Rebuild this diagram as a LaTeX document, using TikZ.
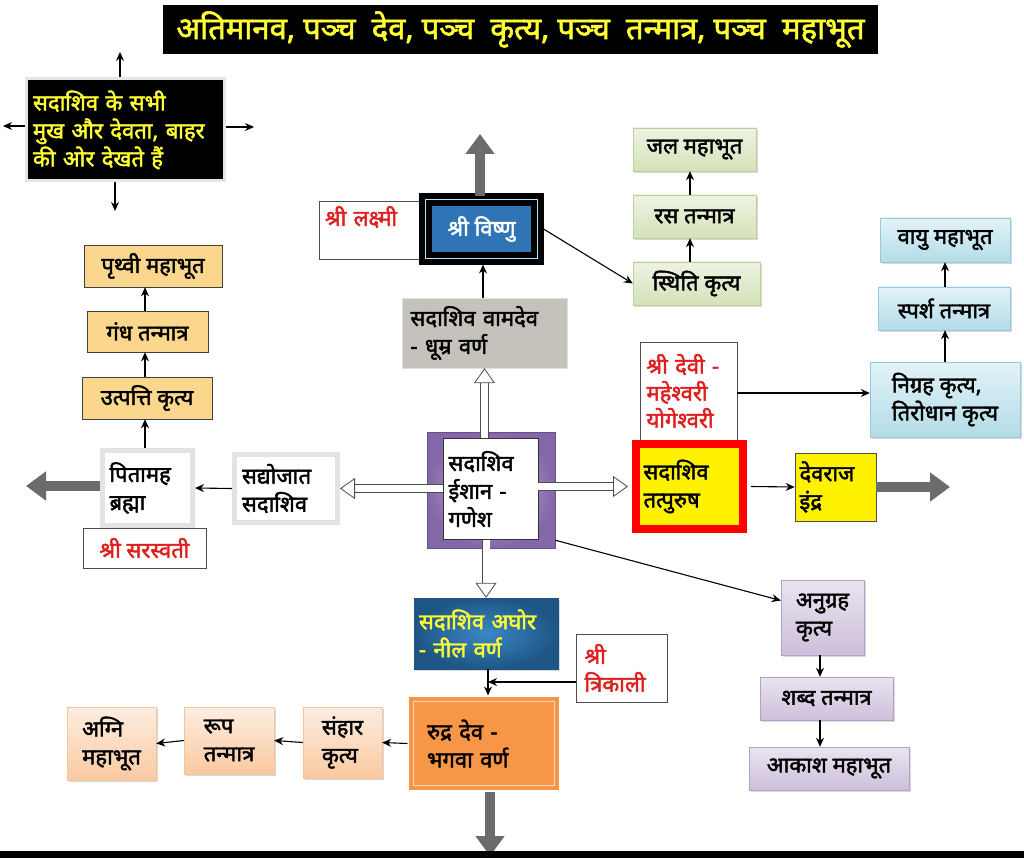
\documentclass[tikz,border=0pt]{standalone}
\usepackage{fontspec}
\setmainfont[Script=Devanagari, BoldFont={Noto Sans}, BoldFeatures={FakeBold=2}]{Noto Sans}
\usetikzlibrary{arrows.meta,shadows}
\definecolor{ttlyel}{HTML}{FFFF33}
\definecolor{gold}{HTML}{FAD78C}
\definecolor{grntop}{HTML}{EEF3E3}
\definecolor{grnbot}{HTML}{D4E2B8}
\definecolor{grnline}{HTML}{BDD09A}
\definecolor{cyntop}{HTML}{E2F3F8}
\definecolor{cynbot}{HTML}{B4DCE7}
\definecolor{cynline}{HTML}{92CBDA}
\definecolor{lavtop}{HTML}{EAE4F0}
\definecolor{lavbot}{HTML}{CCC0DA}
\definecolor{lavline}{HTML}{B3A2C7}
\definecolor{pchtop}{HTML}{FDEEE2}
\definecolor{pchbot}{HTML}{FAC9A0}
\definecolor{pchline}{HTML}{F6C49C}
\definecolor{smoke}{HTML}{C5C2BB}
\definecolor{navy}{HTML}{1D5685}
\definecolor{sky}{HTML}{3B87C6}
\definecolor{saffron}{HTML}{F79646}
\definecolor{saffline}{HTML}{FCD8BA}
\definecolor{violet}{HTML}{8467A8}
\definecolor{lilac}{HTML}{C2B3D6}
\definecolor{shri}{HTML}{E01E1E}
\definecolor{vblue}{HTML}{2F74B5}
\definecolor{bigarr}{HTML}{6B6B6B}
\tikzset{
  dims/.style 2 args = { minimum width=#1, minimum height=#2 },
  txt/.style   = { font=\bfseries\fontsize{22}{28}\selectfont, inner sep=2pt },
  title/.style = { fill=black, text=ttlyel, font=\bfseries\fontsize{31}{32}\selectfont },
  blackbox/.style = { txt, fill=black, draw=gray!20, line width=3pt, text=ttlyel, align=left },
  goldbox/.style  = { txt, fill=gold, draw=black!75, line width=0.6pt },
  grnbox/.style   = { txt, top color=grntop, bottom color=grnbot, draw=grnline,
                      drop shadow={shadow xshift=2pt, shadow yshift=-2pt, opacity=0.3} },
  cynbox/.style   = { txt, top color=cyntop, bottom color=cynbot, draw=cynline,
                      drop shadow={shadow xshift=2pt, shadow yshift=-2pt, opacity=0.3} },
  lavbox/.style   = { txt, top color=lavtop, bottom color=lavbot, draw=lavline,
                      drop shadow={shadow xshift=2pt, shadow yshift=-2pt, opacity=0.3} },
  pchbox/.style   = { txt, top color=pchtop, bottom color=pchbot, draw=pchline, align=left,
                      drop shadow={shadow xshift=2pt, shadow yshift=-2pt, opacity=0.3} },
  paleframe/.style = { txt, fill=white, draw=gray!22, line width=5pt, align=left },
  shribox/.style  = { txt, fill=white, draw=black!70, line width=0.6pt, text=shri, align=left },
  arr/.style   = { line width=1.1pt, -{Stealth[length=9pt, width=8pt]} },
  hollow/.style = { draw=gray!60!black, line width=0.8pt, double=white, double distance=7pt,
                    -{Triangle[open, length=15pt, width=21pt, fill=white]} },
  bigarrow/.style = { bigarr, line width=10pt, -{Triangle[length=20pt, width=28pt]} }
}
\begin{document}
\begin{tikzpicture}[x=1pt, y=-1pt]
  \useasboundingbox (0,0) rectangle (1024,858);

  \node[title, dims={715}{49}] (title) at (520.5,29.5)
    {अतिमानव, पञ्च\ \ देव, पञ्च\ \ कृत्य, पञ्च\ \ तन्मात्र, पञ्च\ \ महाभूत};

  % outward faces
  \node[blackbox, dims={198}{102}, text width=184pt, inner sep=5pt] (faces) at (125,130)
    {सदाशिव के सभी\\ मुख और देवता, बाहर\\ की ओर देखते हैं};
  \coordinate (fN) at (120,52);
  \coordinate (fW) at (3,126);
  \coordinate (fE) at (254,127);
  \coordinate (fS) at (115,211);
  \draw[arr] (faces.north -| fN) -- (fN);
  \draw[arr] (faces.west |- fW) -- (fW);
  \draw[arr] (faces.east |- fE) -- (fE);
  \draw[arr] (faces.south -| fS) -- (fS);

  % west: Sadyojata
  \node[goldbox, dims={138}{42}] (prithvi) at (153,266) {पृथ्वी महाभूत};
  \node[goldbox, dims={121}{41}] (gandh) at (147.5,331.5) {गंध तन्मात्र};
  \node[goldbox, dims={130}{42}] (utpatti) at (147,398) {उत्पत्ति कृत्य};
  \node[paleframe, dims={90}{75}, text width=76pt] (pitamah) at (147.5,488) {पितामह\\ ब्रह्मा};
  \node[shribox, dims={123}{40}, align=center] (sarasvati) at (144.5,548) {श्री सरस्वती};
  \node[paleframe, dims={103}{68}, text width=88pt] (sadyojat) at (286,488.5) {सद्योजात\\ सदाशिव};
  \coordinate (pW) at (26,486);
  \draw[bigarrow] (pitamah.west |- pW) -- (pW);
  \draw[arr] (pitamah.north -| 145,0) -- (utpatti.south -| 145,0);
  \draw[arr] (utpatti.north -| 145,0) -- (gandh.south -| 145,0);
  \draw[arr] (gandh.north -| 145,0) -- (prithvi.south -| 145,0);
  \draw[arr] (sadyojat.west) -- (pitamah.east);

  % centre: Ishana
  \node[shading=radial, inner color=lilac, outer color=violet, draw=violet!80!black,
        dims={128}{116}] (isanbg) at (491,490) {};
  \node[txt, fill=white, draw=black!80, line width=0.6pt, dims={95}{101}, align=left,
        text width=84pt] (isan) at (490.5,489) {सदाशिव\\ ईशान -\\ गणेश};

  % north: Vamadeva
  \node[txt, fill=smoke, draw=gray!25, dims={165}{70}, align=left, text width=148pt]
    (vamdev) at (484.5,333) {सदाशिव वामदेव\\ - धूम्र वर्ण};
  \node[shribox, dims={100}{58}, text depth=28pt, text width=88pt] (lakshmi) at (369,230) {श्री लक्ष्मी};
  \node[txt, fill=vblue, draw=black, line width=6pt, double=cyan!30, double distance=1.2pt,
        text=white, dims={112}{59}] (vishnu) at (481.5,229) {श्री विष्णु};
  \node[grnbox, dims={123}{43}] (jal) at (694.5,149.5) {जल महाभूत};
  \node[grnbox, dims={123}{43}] (ras) at (694.5,216.5) {रस तन्मात्र};
  \node[grnbox, dims={127}{43}] (sthiti) at (696.5,283.5) {स्थिति कृत्य};
  \coordinate (vN) at (480,134);
  \draw[bigarrow] (vishnu.north -| vN) -- (vN);
  \draw[hollow] (isan.north -| vamdev.south) -- (vamdev.south);
  \draw[arr] (vamdev.north -| 483,0) -- ([yshift=-3pt]vishnu.south -| 483,0);
  \draw[arr] ([xshift=3pt]vishnu.east) -- (sthiti.west);
  \draw[arr] (sthiti.north -| 690,0) -- (ras.south -| 690,0);
  \draw[arr] (ras.north -| 690,0) -- (jal.south -| 690,0);

  % east: Tatpurusha
  \node[shribox, dims={97}{98}, text width=84pt, font=\bfseries\fontsize{22}{27}\selectfont]
    (devi) at (688.5,391) {श्री देवी -\\ महेश्वरी\\ योगेश्वरी};
  \node[txt, fill=yellow, draw=red, line width=8pt, dims={107}{85}, align=left, text width=92pt]
    (tatpurush) at (689.5,486.5) {सदाशिव\\ तत्पुरुष};
  \node[txt, fill=yellow, draw=black!70, line width=0.6pt, dims={81}{68}, align=left, text width=72pt]
    (devraj) at (835.5,487) {देवराज\\ इंद्र};
  \node[cynbox, dims={130}{44}] (vayu) at (945,240) {वायु महाभूत};
  \node[cynbox, dims={132}{43}] (sparsh) at (944,308.5) {स्पर्श तन्मात्र};
  \node[cynbox, dims={150}{75}, align=left] (nigrah) at (945,399.5) {निग्रह कृत्य,\\ तिरोधान कृत्य};
  \coordinate (dE) at (950,487);
  \draw[hollow] (isan.east |- tatpurush.west) -- ([xshift=-4pt]tatpurush.west);
  \draw[arr] ([xshift=4pt]tatpurush.east) -- (devraj.west);
  \draw[bigarrow] (devraj.east) -- (dE);
  \draw[arr] (devi.east |- 0,393) -- (nigrah.west |- 0,393);
  \draw[arr] (nigrah.north -| 945,0) -- (sparsh.south -| 945,0);
  \draw[arr] (sparsh.north -| 945,0) -- (vayu.south -| 945,0);

  % south-east: Anugraha
  \node[lavbox, dims={83}{75}, align=left] (anugrah) at (822.5,617.5) {अनुग्रह\\ कृत्य};
  \node[lavbox, dims={133}{43}] (shabd) at (826.5,698.5) {शब्द तन्मात्र};
  \node[lavbox, dims={160}{43}] (akash) at (829,768.5) {आकाश महाभूत};
  \draw[arr] ([yshift=8pt]isanbg.south east) -- ([yshift=17pt]anugrah.west);
  \draw[arr] (anugrah.south -| 820,0) -- (shabd.north -| 820,0);
  \draw[arr] (shabd.south -| 820,0) -- (akash.north -| 820,0);

  % south: Aghora, Rudra
  \node[txt, shading=radial, inner color=sky, outer color=navy, draw=navy, text=ttlyel,
        dims={144}{71}, align=left, text width=134pt,
        drop shadow={shadow xshift=2pt, shadow yshift=-2pt, opacity=0.3}]
    (aghor) at (486,633.5) {सदाशिव अघोर\\ - नील वर्ण};
  \node[shribox, dims={91}{68}, text width=74pt] (trikali) at (621.5,668) {श्री\\ त्रिकाली};
  \node[txt, fill=saffron, draw=saffron, line width=4pt, double=saffline, double distance=1.2pt,
        dims={141}{84}, align=left, text width=114pt] (rudra) at (484,743.5) {रुद्र देव -\\ भगवा वर्ण};
  \node[pchbox, dims={79}{71}] (samhar) at (342.5,742.5) {संहार\\ कृत्य};
  \node[pchbox, dims={90}{67}] (rup) at (229,740.5) {रूप\\ तन्मात्र};
  \node[pchbox, dims={89}{73}] (agni) at (111.5,743.5) {अग्नि\\ महाभूत};
  \coordinate (rS) at (490,856);
  \draw[hollow] (isan.south -| aghor.north) -- (aghor.north);
  \draw[hollow] (isan.west |- sadyojat.east) -- (sadyojat.east);
  \draw[arr] (aghor.south -| 488,0) -- ([yshift=4pt]rudra.north -| 488,0);
  \draw[arr] ([yshift=-14pt]trikali.west) -- (488,682);
  \draw[bigarrow] ([yshift=-4pt]rudra.south -| rS) -- (rS);
  \draw[arr] ([xshift=-4pt]rudra.west) -- (samhar.east);
  \draw[arr] (samhar.west) -- (rup.east);
  \draw[arr] (rup.west) -- (agni.east);

  \fill[black] (0,851) rectangle (1024,858);
\end{tikzpicture}
\end{document}
